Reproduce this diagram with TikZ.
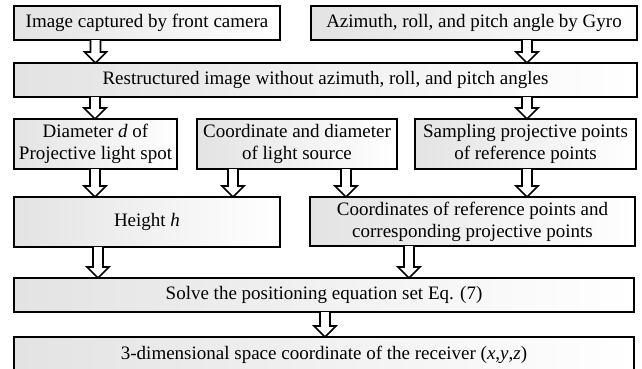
\documentclass[tikz,border=0pt]{standalone}
\usepackage{fontspec}
\setmainfont{Liberation Serif}
\usetikzlibrary{calc}
\tikzset{
  box/.style={draw=black, line width=1.6pt, outer sep=0pt, inner sep=0pt,
    left color=black!11, right color=white, shading angle=90,
    align=center, font=\fontsize{19}{22}\selectfont, text=black},
  hollow/.style={draw=black, line width=1.6pt, fill=white,
    to path={let \p1=(\tikztostart), \p2=(\tikztotarget) in
      (\x1-5pt,\y1) -- (\x1-5pt,\y2+11pt) -- (\x1-11pt,\y2+11pt) -- (\x1,\y2)
      -- (\x1+11pt,\y2+11pt) -- (\x1+5pt,\y2+11pt) -- (\x1+5pt,\y1)}}
}
\begin{document}
\begin{tikzpicture}[x=1pt,y=-1pt]
\useasboundingbox (0,0) rectangle (642,368);
\node[box, minimum width=266pt, minimum height=34pt] (b1) at (147,23) {Image captured by front camera};
\node[box, minimum width=326pt, minimum height=34pt] (b2) at (474,23) {Azimuth, roll, and pitch angle by Gyro};
\node[box, minimum width=623pt, minimum height=34pt] (b3) at (325.5,80) {Restructured image without azimuth, roll, and pitch angles};
\node[box, minimum width=163pt, minimum height=50pt] (b4) at (95.5,144) {Diameter \textit{d} of\\Projective light spot};
\node[box, minimum width=200pt, minimum height=50pt] (b5) at (297,144) {Coordinate and diameter\\of light source};
\node[box, minimum width=221pt, minimum height=50pt] (b6) at (525.5,144) {Sampling projective points\\of reference points};
\node[box, minimum width=266pt, minimum height=50pt] (b7) at (147,222) {Height \textit{h}};
\node[box, minimum width=325pt, minimum height=49pt] (b8) at (472.5,221.5) {Coordinates of reference points and\\corresponding projective points};
\node[box, minimum width=620pt, minimum height=34pt] (b9) at (324,295) {Solve the positioning equation set Eq. (7)};
\node[box, minimum width=620pt, minimum height=35pt] (b10) at (324,354.5) {3-dimensional space coordinate of the receiver (\textit{x},\textit{y},\textit{z})};
\draw[hollow] ([xshift=81.5pt]b1.south west) to (b3.north);
\draw[hollow] ([xshift=216pt]b2.south west) to (b3.north);
\draw[hollow] ([xshift=81pt]b3.south west) to (b4.north);
\draw[hollow] ([xshift=513pt]b3.south west) to (b6.north);
\draw[hollow] ([xshift=81pt]b4.south west) to (b7.north);
\draw[hollow] ([xshift=36pt]b5.south west) to (b7.north);
\draw[hollow] ([xshift=149pt]b5.south west) to (b8.north);
\draw[hollow] ([xshift=112pt]b6.south west) to (b8.north);
\draw[hollow] ([xshift=84pt]b7.south west) to (b9.north);
\draw[hollow] ([xshift=99pt]b8.south west) to (b9.north);
\draw[hollow] ([xshift=311pt]b9.south west) to (b10.north);
\end{tikzpicture}
\end{document}
